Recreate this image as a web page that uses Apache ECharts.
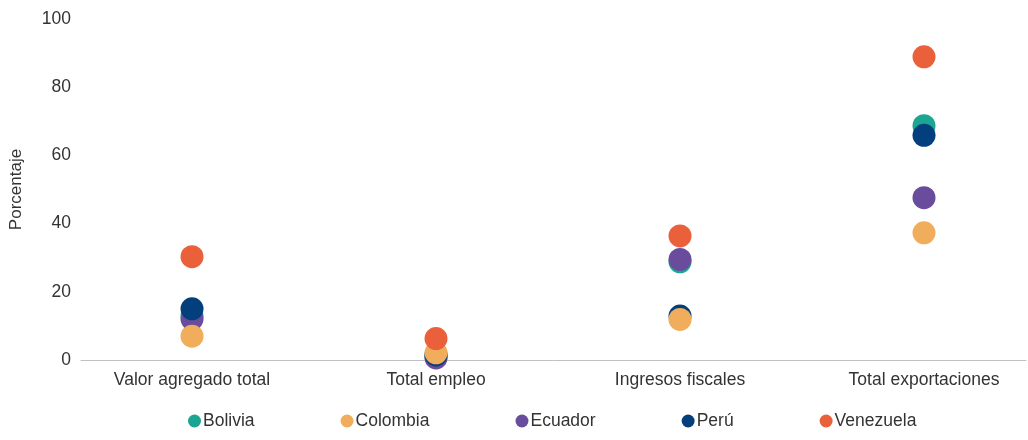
<!DOCTYPE html>
<html>
<head>
<meta charset="utf-8">
<title>Porcentaje por sector</title>
<script src="https://cdn.jsdelivr.net/npm/echarts@6/dist/echarts.min.js"></script>
<style>
  html, body { margin: 0; padding: 0; background: #fff; }
  #chart { width: 1028px; height: 440px; }
</style>
</head>
<body>
<div id="chart"></div>
<script>
// Categories along the horizontal axis
const categories = ['Valor agregado total', 'Total empleo', 'Ingresos fiscales', 'Total exportaciones'];

// Share (%) per country for each category
const bolivia   = [13.0, 1.0, 28.8, 68.7];
const colombia  = [7.0, 2.1, 11.9, 37.3];
const ecuador   = [12.0, 0.6, 29.5, 47.6];
const peru      = [15.0, 1.5, 12.9, 65.9];
const venezuela = [30.3, 6.3, 36.4, 88.9];

const yTicks = [0, 20, 40, 60, 80, 100];

const countries = [
  { name: 'Bolivia',   data: bolivia,   color: '#1ba593', z: 1 },
  { name: 'Colombia',  data: colombia,  color: '#f0ad5c', z: 4 },
  { name: 'Ecuador',   data: ecuador,   color: '#6a4c9c', z: 2 },
  { name: 'Perú',      data: peru,      color: '#033f7c', z: 3 },
  { name: 'Venezuela', data: venezuela, color: '#e9603b', z: 5 }
];

const font = 'Liberation Sans, Arial, sans-serif';
const chart = echarts.init(document.getElementById('chart'), null, { renderer: 'canvas' });

chart.setOption({
  animation: false,
  textStyle: { fontFamily: font },
  grid: { left: 81, right: 2, top: 19, bottom: 80, outerBoundsMode: 'none', containLabel: false },
  legend: {
    data: countries.map(c => c.name),
    left: 183,
    top: 407,
    icon: 'circle',
    itemWidth: 13,
    itemHeight: 13,
    itemGap: 86,
    textStyle: { fontFamily: font, fontSize: 17.5, color: '#333', padding: [0, 0, 0, -3] }
  },
  xAxis: {
    type: 'value',
    min: -0.455,
    max: 3.418,
    splitLine: { show: false },
    axisTick: { show: false },
    axisLine: { show: true, onZero: false, lineStyle: { color: '#c0c0c0', width: 1 } },
    axisLabel: {
      customValues: [0, 1, 2, 3],
      formatter: v => categories[Math.round(v)] || '',
      fontFamily: font,
      fontSize: 17.5,
      color: '#333',
      margin: 11
    }
  },
  yAxis: {
    type: 'value',
    min: 0,
    max: 100,
    interval: 20,
    name: 'Porcentaje',
    nameLocation: 'middle',
    nameGap: 56,
    nameRotate: 90,
    nameTextStyle: { fontFamily: font, fontSize: 17, color: '#333' },
    splitLine: { show: false },
    axisLine: { show: false },
    axisTick: { show: false },
    axisLabel: {
      customValues: yTicks,
      fontFamily: font,
      fontSize: 17.5,
      color: '#333',
      margin: 10
    }
  },
  series: countries.map(c => ({
    name: c.name,
    type: 'scatter',
    z: c.z,
    symbol: 'circle',
    symbolSize: 23,
    itemStyle: { color: c.color, opacity: 1 },
    data: c.data.map((v, i) => [i, v])
  }))
});
</script>
</body>
</html>
